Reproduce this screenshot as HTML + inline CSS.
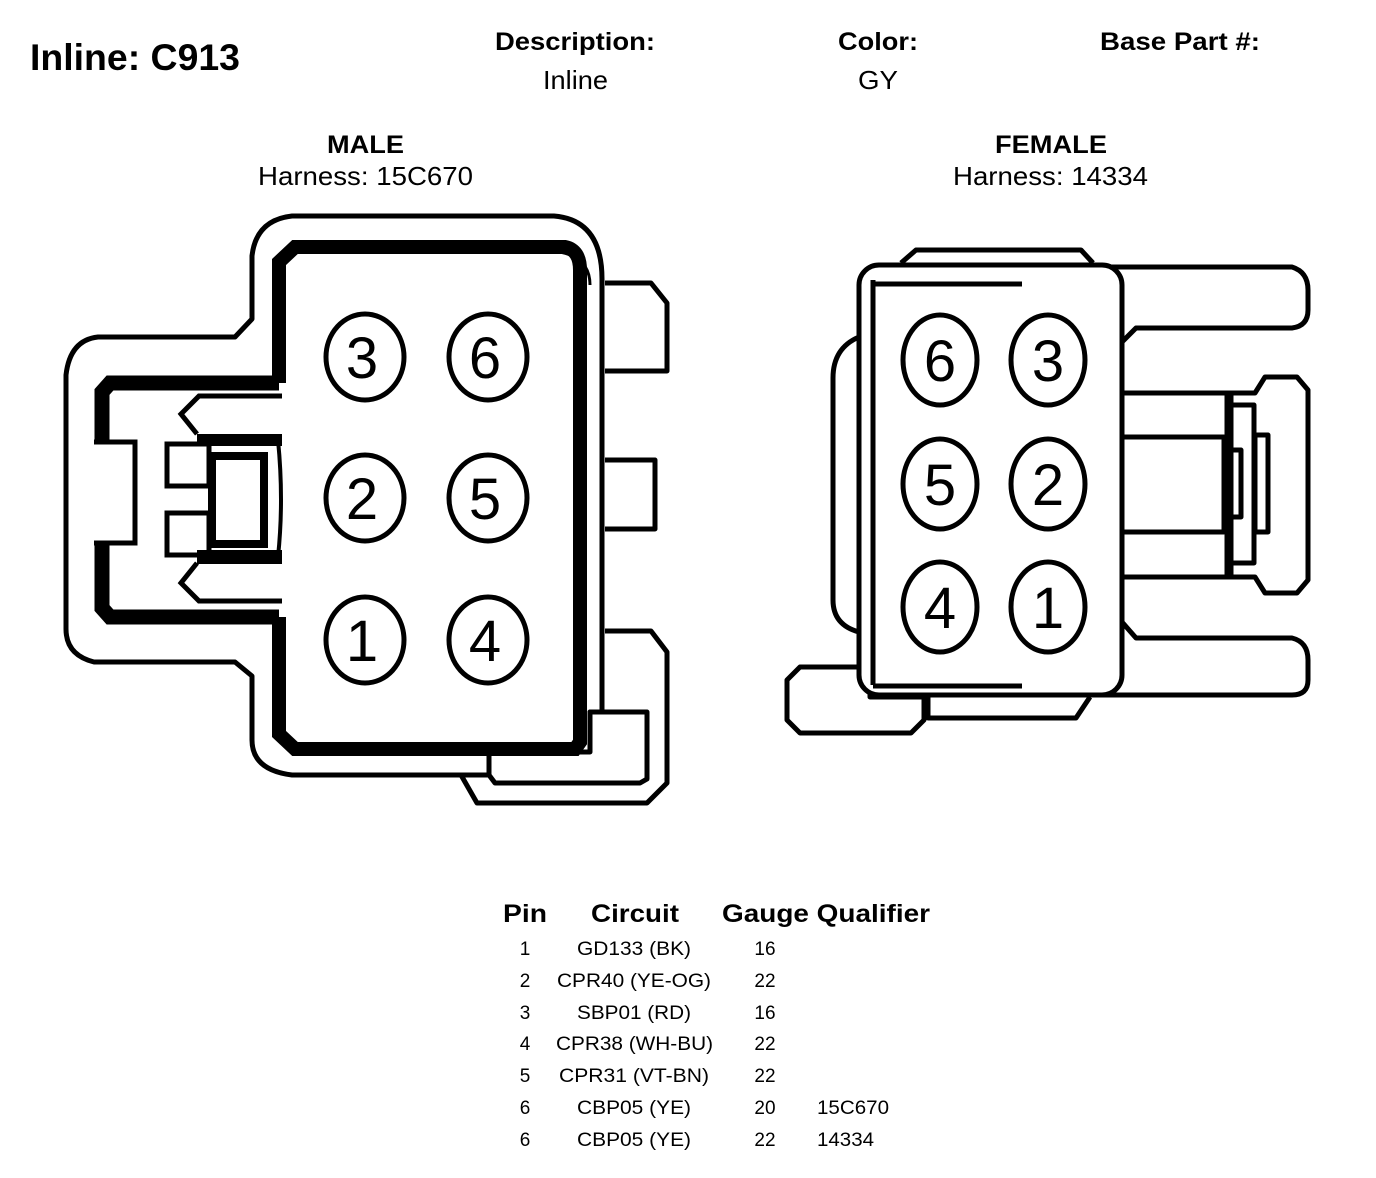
<!DOCTYPE html>
<html><head><meta charset="utf-8"><style>
html,body{margin:0;padding:0;background:#fff;}
svg{display:block;font-family:"Liberation Sans",Arial,sans-serif;}
</style></head><body>
<svg width="1376" height="1178" viewBox="0 0 1376 1178" xmlns="http://www.w3.org/2000/svg">
<rect width="1376" height="1178" fill="#fff"/>
<g fill="#000" lengthAdjust="spacingAndGlyphs">
<text x="30" y="70" font-size="37" font-weight="bold" textLength="210" lengthAdjust="spacingAndGlyphs">Inline: C913</text>
<text x="495" y="50" font-size="25" font-weight="bold" textLength="160" lengthAdjust="spacingAndGlyphs">Description:</text>
<text x="543" y="89" font-size="26" textLength="65" lengthAdjust="spacingAndGlyphs">Inline</text>
<text x="838" y="50" font-size="25" font-weight="bold" textLength="80" lengthAdjust="spacingAndGlyphs">Color:</text>
<text x="858" y="89" font-size="26" textLength="40" lengthAdjust="spacingAndGlyphs">GY</text>
<text x="1100" y="50" font-size="25" font-weight="bold" textLength="160" lengthAdjust="spacingAndGlyphs">Base Part #:</text>
<text x="327" y="153" font-size="25" font-weight="bold" textLength="77" lengthAdjust="spacingAndGlyphs">MALE</text>
<text x="258" y="185" font-size="26" textLength="215" lengthAdjust="spacingAndGlyphs">Harness: 15C670</text>
<text x="995" y="153" font-size="25" font-weight="bold" textLength="112" lengthAdjust="spacingAndGlyphs">FEMALE</text>
<text x="953" y="185" font-size="26" textLength="195" lengthAdjust="spacingAndGlyphs">Harness: 14334</text>
</g>

<!-- MALE -->
<g fill="#fff" stroke="#000" stroke-width="5" stroke-linejoin="round">
<path d="M605,283 H651 L667,303 V371 H605"/>
<path d="M605,460 H655 V529 H605"/>
<path d="M605,631 H651 L667,652 V783 L647,803 H477 L461,775"/>
<path d="M292,216 H554 Q602,220 602,279 V712 H590 V775 H292 Q252,770 252,740 V676 L235,662 H94 Q66,655 66,629 V375 Q70,340 98,337 H235 L252,319 V256 Q256,220 292,216 Z"/>
<path d="M590,712 H647 V779 L640,783 H495 L489,775 V752 H590 Z"/>
</g>
<g fill="none" stroke="#000" stroke-linejoin="miter">
<path d="M279,383 V262 L295,247 H565 Q580,250 580,270 V742 L575,749 H295 L279,734 V617" stroke-width="14"/>
<path d="M560,252 Q590,258 590,285" stroke-width="3"/>
<path d="M279,383 H110 L102,392 V442" stroke-width="15"/>
<path d="M279,617 H110 L102,608 V543" stroke-width="15"/>
<path d="M94,442 H135 V543 H94" stroke-width="5"/>
<path d="M282,396 H199 L181,414 L197,434" stroke-width="5"/>
<path d="M282,601 H199 L181,583 L197,563" stroke-width="5"/>
<path d="M197,440 H282" stroke-width="12"/>
<path d="M197,557 H282" stroke-width="14"/>
<path d="M278,440 Q284,500 278,557" stroke-width="4"/>
<rect x="167" y="444" width="42" height="42" stroke-width="5"/>
<rect x="167" y="513" width="42" height="42" stroke-width="5"/>
<rect x="212" y="456" width="52" height="88" stroke-width="8"/>
</g>
<g fill="none" stroke="#000" stroke-width="5">
<ellipse cx="365" cy="357" rx="39" ry="43"/>
<ellipse cx="488" cy="357" rx="39" ry="43"/>
<ellipse cx="365" cy="498" rx="39" ry="43"/>
<ellipse cx="488" cy="498" rx="39" ry="43"/>
<ellipse cx="365" cy="640" rx="39" ry="43"/>
<ellipse cx="488" cy="640" rx="39" ry="43"/>
</g>
<g font-size="58" text-anchor="middle" fill="#000">
<text x="362" y="378">3</text><text x="485" y="378">6</text>
<text x="362" y="519">2</text><text x="485" y="519">5</text>
<text x="362" y="661">1</text><text x="485" y="661">4</text>
</g>

<!-- FEMALE -->
<g fill="#fff" stroke="#000" stroke-width="5" stroke-linejoin="round">
<path d="M901,263 L916,250 H1081 L1093,263"/>
<path d="M928,697 V718 H1076 L1090,697"/>
<path d="M859,337 Q833,348 833,378 V600 Q833,625 859,632"/>
<path d="M1100,267 H1292 Q1308,272 1308,290 V310 Q1308,326 1292,328 H1136 L1122,342"/>
<path d="M1122,622 L1136,638 H1292 Q1308,642 1308,660 V680 Q1308,695 1292,695 H1100"/>
<path d="M1122,393 H1255 L1265,377 H1297 L1308,390 V580 L1297,593 H1265 L1255,577 H1122"/>
<rect x="1122" y="437" width="102" height="95"/>
<rect x="1227" y="393" width="4" height="184"/>
<rect x="1231" y="405" width="23" height="158"/>
<rect x="1231" y="450" width="10" height="67"/>
<rect x="1255" y="435" width="13" height="97"/>
<path d="M800,667 H870 V697 H924 V720 L911,733 H800 L787,720 V680 Z"/>
<rect x="859" y="265" width="263" height="430" rx="20"/>
</g>
<g fill="none" stroke="#000" stroke-width="5">
<path d="M873,280 V685"/>
<path d="M873,284 H1022"/>
<path d="M873,686 H1022"/>
<ellipse cx="940" cy="360" rx="37" ry="45"/>
<ellipse cx="1048" cy="360" rx="37" ry="45"/>
<ellipse cx="940" cy="484" rx="37" ry="45"/>
<ellipse cx="1048" cy="484" rx="37" ry="45"/>
<ellipse cx="940" cy="607" rx="37" ry="45"/>
<ellipse cx="1048" cy="607" rx="37" ry="45"/>
</g>
<g font-size="58" text-anchor="middle" fill="#000">
<text x="940" y="381">6</text><text x="1048" y="381">3</text>
<text x="940" y="505">5</text><text x="1048" y="505">2</text>
<text x="940" y="628">4</text><text x="1048" y="628">1</text>
</g>

<!-- TABLE -->
<g fill="#000">
<text x="503" y="922" font-size="25" font-weight="bold" textLength="44" lengthAdjust="spacingAndGlyphs">Pin</text>
<text x="591" y="922" font-size="25" font-weight="bold" textLength="88" lengthAdjust="spacingAndGlyphs">Circuit</text>
<text x="722" y="922" font-size="25" font-weight="bold" textLength="208" lengthAdjust="spacingAndGlyphs">Gauge Qualifier</text>
<g font-size="19">
<g text-anchor="middle">
<text x="525" y="955">1</text><text x="765" y="955">16</text>
<text x="525" y="987">2</text><text x="765" y="987">22</text>
<text x="525" y="1019">3</text><text x="765" y="1019">16</text>
<text x="525" y="1050">4</text><text x="765" y="1050">22</text>
<text x="525" y="1082">5</text><text x="765" y="1082">22</text>
<text x="525" y="1114">6</text><text x="765" y="1114">20</text>
<text x="525" y="1146">6</text><text x="765" y="1146">22</text>
</g>
<text x="577" y="955" textLength="114" lengthAdjust="spacingAndGlyphs">GD133 (BK)</text>
<text x="557" y="987" textLength="154" lengthAdjust="spacingAndGlyphs">CPR40 (YE-OG)</text>
<text x="577" y="1019" textLength="114" lengthAdjust="spacingAndGlyphs">SBP01 (RD)</text>
<text x="556" y="1050" textLength="157" lengthAdjust="spacingAndGlyphs">CPR38 (WH-BU)</text>
<text x="559" y="1082" textLength="150" lengthAdjust="spacingAndGlyphs">CPR31 (VT-BN)</text>
<text x="577" y="1114" textLength="114" lengthAdjust="spacingAndGlyphs">CBP05 (YE)</text>
<text x="577" y="1146" textLength="114" lengthAdjust="spacingAndGlyphs">CBP05 (YE)</text>
<text x="817" y="1114" textLength="72" lengthAdjust="spacingAndGlyphs">15C670</text>
<text x="817" y="1146" textLength="57" lengthAdjust="spacingAndGlyphs">14334</text>
</g>
</g>
</svg>
</body></html>
